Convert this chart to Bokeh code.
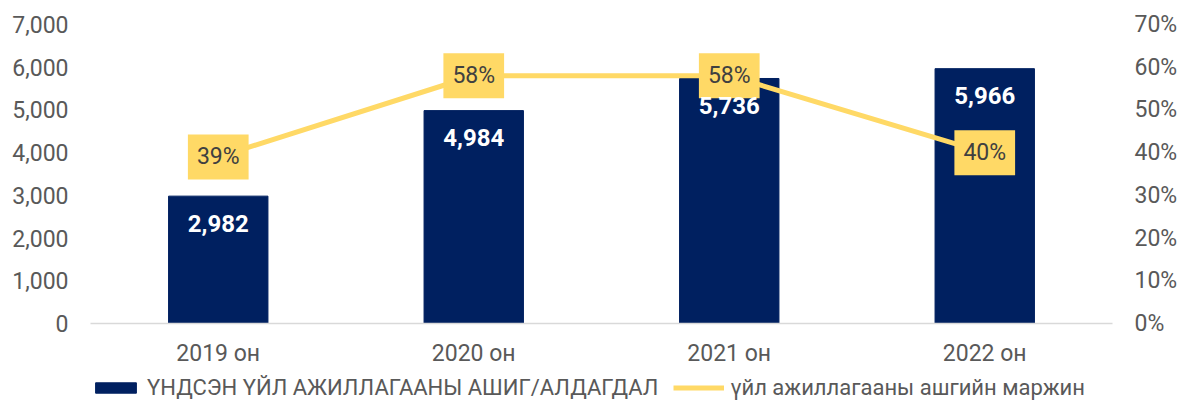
from bokeh.plotting import figure
from bokeh.layouts import column
from bokeh.models import (ColumnDataSource, FactorRange, Range1d, LinearAxis, FixedTicker,
                          NumeralTickFormatter, LabelSet, Legend, LegendItem)
from bokeh.core.properties import value
from bokeh.embed import file_html
from bokeh.resources import INLINE

categories = ["2019 он", "2020 он", "2021 он", "2022 он"]
profit = [2982, 4984, 5736, 5966]
margin = [0.39, 0.58, 0.58, 0.40]
bar_name = "ҮНДСЭН ҮЙЛ АЖИЛЛАГААНЫ АШИГ/АЛДАГДАЛ"
line_name = "үйл ажиллагааны ашгийн маржин"
left_ticks = [0, 1000, 2000, 3000, 4000, 5000, 6000, 7000]
right_ticks = [0, 0.1, 0.2, 0.3, 0.4, 0.5, 0.6, 0.7]

NAVY = "#002060"
YELLOW = "#FFD966"
GREY = "#595959"
FONT = "Roboto"

src = ColumnDataSource(dict(
    cat=categories, profit=profit, margin=margin,
    plabel=[f"{v:,}" for v in profit],
    mlabel=[f"{round(m*100)}%" for m in margin],
))

p = figure(x_range=FactorRange(*categories, range_padding=0), y_range=Range1d(0, 7000),
           width=1180, height=373, output_backend="svg", toolbar_location=None,
           min_border_left=90, min_border_right=52, min_border_top=24, min_border_bottom=50)
p.outline_line_color = None
p.xgrid.visible = False
p.ygrid.visible = False
p.extra_y_ranges = {"pct": Range1d(0, 0.7)}

bars = p.vbar(x="cat", top="profit", width=0.389, source=src, color=NAVY)
line = p.line(x="cat", y="margin", source=src, y_range_name="pct",
              line_color=YELLOW, line_width=5)

# axes
p.yaxis.ticker = FixedTicker(ticks=left_ticks)
p.yaxis.formatter = NumeralTickFormatter(format="0,0")
ra = LinearAxis(y_range_name="pct", ticker=FixedTicker(ticks=right_ticks),
                formatter=NumeralTickFormatter(format="0%"))
p.add_layout(ra, "right")
for ax in [p.yaxis[0], ra]:
    ax.axis_line_color = None
    ax.major_tick_line_color = None
    ax.minor_tick_line_color = None
    ax.major_tick_out = 0
    ax.minor_tick_out = 0
    ax.major_label_text_font = FONT
    ax.major_label_text_font_size = "23px"
    ax.major_label_text_color = GREY
    ax.major_label_standoff = 22
xa = p.xaxis[0]
xa.axis_line_color = "#D9D9D9"
xa.axis_line_width = 1.5
xa.major_tick_line_color = None
xa.minor_tick_line_color = None
xa.major_tick_out = 0
xa.minor_tick_out = 0
xa.major_label_text_font = FONT
xa.major_label_text_font_size = "23px"
xa.major_label_text_color = GREY
xa.major_label_standoff = 16

# bar value labels
p.add_layout(LabelSet(x="cat", y="profit", text="plabel", source=src, y_offset=-27,
                      text_align="center", text_baseline="middle", text_color="white",
                      text_font=value(FONT), text_font_style="bold", text_font_size="24px"))
# margin labels
p.text(x="cat", y="margin", text="mlabel", source=src, y_range_name="pct",
       text_align="center", text_baseline="middle", text_color="#404040",
       text_font=value(FONT), text_font_size="23px",
       background_fill_color=YELLOW, padding=9)

# legend strip: small figure below the chart; its proxy renderers reuse the same
# data but lie far outside its visible y-range, so only the legend shows
lf = figure(width=1180, height=27, output_backend="svg", toolbar_location=None,
            x_range=FactorRange(*categories, range_padding=0), y_range=Range1d(1e6, 1e6 + 1),
            x_axis_type=None, y_axis_type=None,
            min_border_left=0, min_border_right=0, min_border_top=0, min_border_bottom=0)
lf.outline_line_color = None
lf.xgrid.visible = False
lf.ygrid.visible = False
proxy_bar = lf.vbar(x="cat", top="profit", width=0.389, source=src, color=NAVY)
proxy_line = lf.line(x="cat", y="margin", source=src, line_color=YELLOW, line_width=5)

legend = Legend(items=[LegendItem(label=bar_name, renderers=[proxy_bar]),
                       LegendItem(label=line_name, renderers=[proxy_line])],
                orientation="horizontal", location=(0, 0),
                padding=0, margin=0, spacing=15, label_standoff=6,
                glyph_width=51, glyph_height=13,
                label_text_font=FONT, label_text_font_size="22px", label_text_color=GREY,
                border_line_color=None, background_fill_alpha=0)
lf.add_layout(legend, "center")

layout = column(p, lf, spacing=0)
open("out.html", "w").write(file_html(layout, INLINE))
